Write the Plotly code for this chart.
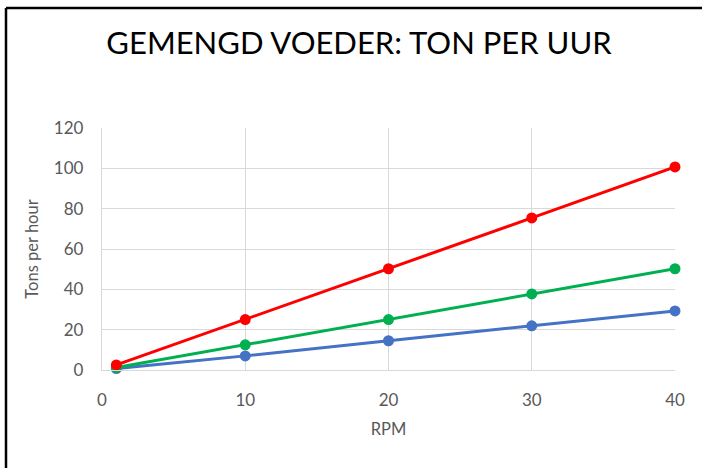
import plotly.graph_objects as go

rpm = [1, 10, 20, 30, 40]
red_vals = [2.5, 25, 50.2, 75.4, 100.7]
green_vals = [1.25, 12.5, 25, 37.7, 50.2]
blue_vals = [0.7, 7.0, 14.5, 21.9, 29.3]

W, H = 702, 468
L, R, T, B = 102, 27, 128, 98
pw, ph = W - L - R, H - T - B

fig = go.Figure()
for vals, col in [(blue_vals, "#4472C4"), (green_vals, "#00B050"), (red_vals, "#FF0000")]:
    fig.add_trace(go.Scatter(x=rpm, y=vals, mode="lines+markers",
                             line=dict(color=col, width=3),
                             marker=dict(color=col, size=11),
                             showlegend=False, cliponaxis=False))

gray = "#595959"
tickfont = dict(family="Lato, Open Sans, sans-serif", size=17, color=gray)
titlefont = dict(family="Lato, Open Sans, sans-serif", size=16.5, color=gray)
fig.update_layout(
    width=W, height=H,
    margin=dict(l=L, r=R, t=T, b=B),
    paper_bgcolor="white", plot_bgcolor="white",
    title=dict(text="GEMENGD VOEDER: TON PER UUR", x=359 / W, xanchor="center",
               y=1 - 43 / H, yanchor="middle",
               font=dict(family="Lato, sans-serif", size=31, color="#000000")),
    xaxis=dict(range=[0, 40], tickvals=[0, 10, 20, 30, 40], showgrid=True,
               gridcolor="#D9D9D9", gridwidth=1.3, zeroline=False,
               showline=True, linecolor="#D9D9D9", linewidth=1.3,
               tickfont=tickfont, ticklabelstandoff=14,
               title=dict(text="RPM", font=titlefont, standoff=14)),
    yaxis=dict(range=[0, 120], tickvals=[0, 20, 40, 60, 80, 100, 120], showgrid=True,
               gridcolor="#D9D9D9", gridwidth=1.3, zeroline=False,
               showline=True, linecolor="#D9D9D9", linewidth=1.3,
               tickfont=tickfont, ticklabelstandoff=14,
               title=dict(text="Tons per hour", font=titlefont, standoff=11)),
)

# chart frame (top and left edges visible)
fig.add_shape(type="line", xref="paper", yref="paper",
              x0=(6 - L) / pw, x1=(W + 5 - L) / pw, y0=1 + (T - 8) / ph, y1=1 + (T - 8) / ph,
              line=dict(color="#000000", width=2.5))
fig.add_shape(type="line", xref="paper", yref="paper",
              x0=(6 - L) / pw, x1=(6 - L) / pw, y0=1 + (T - 8) / ph, y1=-(B + 5) / ph,
              line=dict(color="#000000", width=2.5))

fig.write_html("out.html", config={"displayModeBar": False},
               post_script="document.body.style.margin='0';document.body.style.overflow='hidden';")
